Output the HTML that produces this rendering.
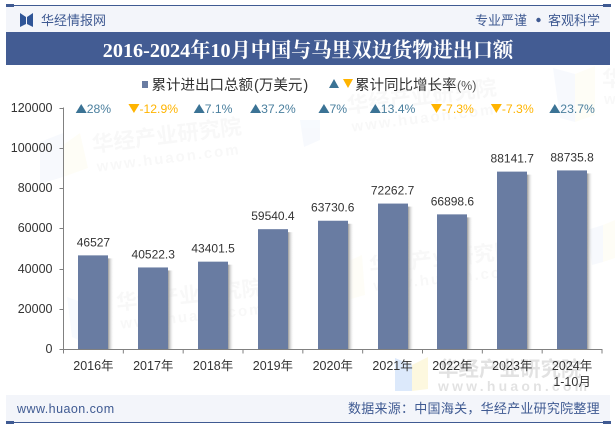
<!DOCTYPE html>
<html lang="zh">
<head>
<meta charset="utf-8">
<title>2016-2024年10月中国与马里双边货物进出口额</title>
<style>
html,body{margin:0;padding:0;background:#fff}
svg{display:block;font-family:"Liberation Sans","Noto Sans CJK SC",sans-serif}
</style>
</head>
<body>
<svg id="chart" width="615" height="427" viewBox="0 0 615 427" xmlns="http://www.w3.org/2000/svg">
<defs>
<linearGradient id="barShadow" x1="0" x2="1" y1="0" y2="0">
<stop offset="0" stop-color="#999999"/>
<stop offset="1" stop-color="#ffffff" stop-opacity="0"/>
</linearGradient>
</defs>
<rect width="615" height="427" fill="#ffffff"/>

<g opacity="0.6">
<polygon points="40,142 63,133 63,177 40,184" fill="#f2f6fd"/>
<polygon points="63,145 80,133 88,168 63,177" fill="#fefcf1"/>
<polygon points="300,120 320,120 320,140 304,147" fill="#f2f6fd"/>
<polygon points="553,68 575,74 575,122 560,118" fill="#f2f6fd"/>
<polygon points="575,74 595,66 595,115 575,122" fill="#fefcf1"/>
<polygon points="67,297 90,305 90,345 72,337" fill="#f2f6fd"/>
<polygon points="340,265 362,255 365,295 340,302" fill="#fefcf1"/>
<polygon points="587,230 603,225 603,262 592,265" fill="#f2f6fd"/>
<polygon points="603,225 615,220 615,258 603,262" fill="#fefcf1"/>
</g>
<g fill="#000" opacity="0.028" font-weight="700">
<g transform="rotate(-7 93 152)">
<text x="93" y="152" font-size="21.500">华经产业研究院</text>
<text x="95" y="172" font-size="15" letter-spacing="2">www.huaon.com</text>
</g>
<g transform="rotate(-7 348 113)">
<text x="348" y="113" font-size="21.500">华经产业研究院</text>
<text x="350" y="132" font-size="15" letter-spacing="2">www.huaon.com</text>
</g>
<g transform="rotate(-6 117 310)">
<text x="117" y="310" font-size="21">华经产业研究院</text>
<text x="119" y="329" font-size="15" letter-spacing="2">www.huaon.com</text>
</g>
<g transform="rotate(-6 370 273)">
<text x="370" y="273" font-size="21">华经产业研究院</text>
<text x="372" y="291" font-size="15" letter-spacing="2">www.huaon.com</text>
</g>
<text x="602" y="86" font-size="21">华</text>
<text x="604" y="104" font-size="15">w</text>
</g>
<g>
<polygon points="395,358 412,365 412,391 395,391" fill="#dce9fb"/>
<polygon points="412,365 428,357 428,389 412,391" fill="#fdf8df"/>
<text x="438" y="376" font-size="20.500" font-weight="700" fill="#000" opacity="0.11">华经产业研究院</text>
<text x="438" y="391" font-size="14" font-weight="700" letter-spacing="3.200" fill="#000" opacity="0.11">www.huaon.com</text>
</g>

<rect x="6" y="5" width="604" height="27" fill="#f3f5fa"/>
<rect x="6" y="5" width="604" height="1" fill="#3f5a92"/>
<rect x="6" y="4" width="8" height="3" fill="#3f5a92"/>
<rect x="603" y="4" width="8" height="3" fill="#3f5a92"/>
<g fill="#2f5597">
<polygon points="20,13 26,17 26,24 20,27"/>
<polygon points="33,13 27,17 27,24 33,27"/>
</g>
<text x="41" y="25" font-size="13" fill="#3f5a92">华经情报网</text>
<text x="475" y="25" font-size="13" fill="#3f5a92">专业严谨</text>
<circle cx="538.500" cy="20" r="2.200" fill="#3f5a92"/>
<text x="548" y="25" font-size="13" fill="#3f5a92">客观科学</text>

<rect x="6" y="32" width="604" height="33" fill="#435c93"/>
<text x="308" y="57" font-size="20.200" font-weight="700" text-anchor="middle" fill="#ffffff" font-family="'Liberation Serif','Noto Serif CJK SC',serif">2016-2024年10月中国与马里双边货物进出口额</text>

<g>
<rect x="142" y="81" width="6" height="7" fill="#697ca2"/>
<text x="151.500" y="90" font-size="14.500" fill="#333">累计进出口总额<tspan dx="1">(</tspan>万美元<tspan dx="1">)</tspan></text>
<polygon points="329,88 339,88 334,79" fill="#3b7395"/>
<polygon points="343,79 353,79 348,88" fill="#ffb400"/>
<text x="355" y="90" font-size="14.500" fill="#333">累计同比增长率<tspan font-size="12.500" fill="#555" dx="0.500">(%)</tspan></text>
</g>

<g id="grid"></g>
<g id="bars"></g>
<g id="growth"></g>
<g id="xaxis"></g>

<rect x="6" y="395" width="604" height="27" fill="#f3f5fa"/>
<rect x="6" y="422" width="604" height="1" fill="#3f5a92"/>
<rect x="6" y="421" width="8" height="3" fill="#3f5a92"/>
<rect x="603" y="421" width="8" height="3" fill="#3f5a92"/>
<text x="17" y="413" font-size="12.500" letter-spacing="0.450" fill="#3f5a92">www.huaon.com</text>
<text x="348" y="413" font-size="13" letter-spacing="0.260" fill="#3f5a92">数据来源：中国海关，华经产业研究院整理</text>
</svg>
<script>
var categories = ["2016年","2017年","2018年","2019年","2020年","2021年","2022年","2023年","2024年"];
var categorySub = ["","","","","","","","","1-10月"];
var totals = [46527,40522.3,43401.5,59540.4,63730.6,72262.7,66898.6,88141.7,88735.8];
var totalLabels = ["46527","40522.3","43401.5","59540.4","63730.6","72262.7","66898.6","88141.7","88735.8"];
var growth = [28,-12.9,7.1,37.2,7,13.4,-7.3,-7.3,23.7];
var yTicks = [0,20000,40000,60000,80000,100000,120000];

var NS = 'http://www.w3.org/2000/svg';
var plotLeft = 63.5, plotRight = 602, plotTop = 107.5, plotBottom = 349, yMax = 120000;
function xBand(i){ return plotLeft + (plotRight - plotLeft) * i / categories.length; }
function xCenter(i){ return xBand(i + 0.5); }
function yScale(v){ return plotBottom - (plotBottom - plotTop) * v / yMax; }
function make(tag, attrs, parent, text){
  var el = document.createElementNS(NS, tag);
  for (var k in attrs) el.setAttribute(k, attrs[k]);
  if (text !== undefined) el.textContent = text;
  parent.appendChild(el);
  return el;
}
var gridG = document.getElementById('grid');
var barsG = document.getElementById('bars');
var growthG = document.getElementById('growth');
var xaxisG = document.getElementById('xaxis');
var axisColor = '#808080';

var axisLine = make('line', {x1:plotLeft, x2:plotLeft, y1:plotTop, y2:plotBottom, stroke:axisColor, 'stroke-width':1}, gridG);



yTicks.forEach(function(t){
  var y = Math.round(yScale(t)) + 0.5;
  var tick = make('line', {x1:plotLeft - 4, x2:plotLeft, y1:y, y2:y, stroke:axisColor, 'stroke-width':1}, gridG);
  
  
  var label = make('text', {x:52.5, y:y + 3.5, 'font-size':12.5, 'text-anchor':'end', fill:'#333'}, gridG, String(t));
  
  
});

var baseLine = make('line', {x1:plotLeft - 4, x2:plotRight, y1:349.5, y2:349.5, stroke:axisColor, 'stroke-width':1}, xaxisG);



categories.forEach(function(c, i){
  var cx = xCenter(i), barW = 30, top = yScale(totals[i]);
  var left = Math.round(cx - barW / 2);
  var shadow = make('rect', {x:left + barW, y:top + 3, width:6, height:plotBottom - top - 3, fill:'url(#barShadow)'}, barsG);
  
  
  var bar = make('rect', {x:left, y:top, width:barW, height:plotBottom - top, fill:'#697ca2'}, barsG);
  
  
  var val = make('text', {x:cx, y:top - 9, 'font-size':12, 'text-anchor':'middle', fill:'#333'}, barsG, totalLabels[i]);
  
  

  var g = growth[i], up = g >= 0, color = up ? '#4a7f9e' : '#ffb400', markColor = up ? '#3b7395' : '#ffb400';
  var lab = make('text', {x:cx, y:113, 'font-size':12.2, fill:color}, growthG, g + '%');
  
  
  var tw = lab.getComputedTextLength();
  var startX = cx - (tw + 11) / 2;
  lab.setAttribute('x', startX + 11);
  var pts = up
    ? [[startX, 113], [startX + 11, 113], [startX + 5.5, 104]]
    : [[startX, 104], [startX + 11, 104], [startX + 5.5, 113]];
  var tri = make('polygon', {points:pts.map(function(p){return p.join(',');}).join(' '), fill:markColor}, growthG);
  
  

  var tk = make('line', {x1:xBand(i + 1), x2:xBand(i + 1), y1:349, y2:353.5, stroke:axisColor, 'stroke-width':1}, xaxisG);
  
  
  var cat = make('text', {x:cx, y:370, 'font-size':12.5, 'text-anchor':'middle', fill:'#333'}, xaxisG, c);
  
  
  if (categorySub[i]) {
    var sub = make('text', {x:cx, y:386, 'font-size':12.5, 'text-anchor':'middle', fill:'#333'}, xaxisG, categorySub[i]);
    
    
  }
});
var firstTick = make('line', {x1:plotLeft, x2:plotLeft, y1:349, y2:353.5, stroke:axisColor, 'stroke-width':1}, xaxisG);


</script>
</body>
</html>
